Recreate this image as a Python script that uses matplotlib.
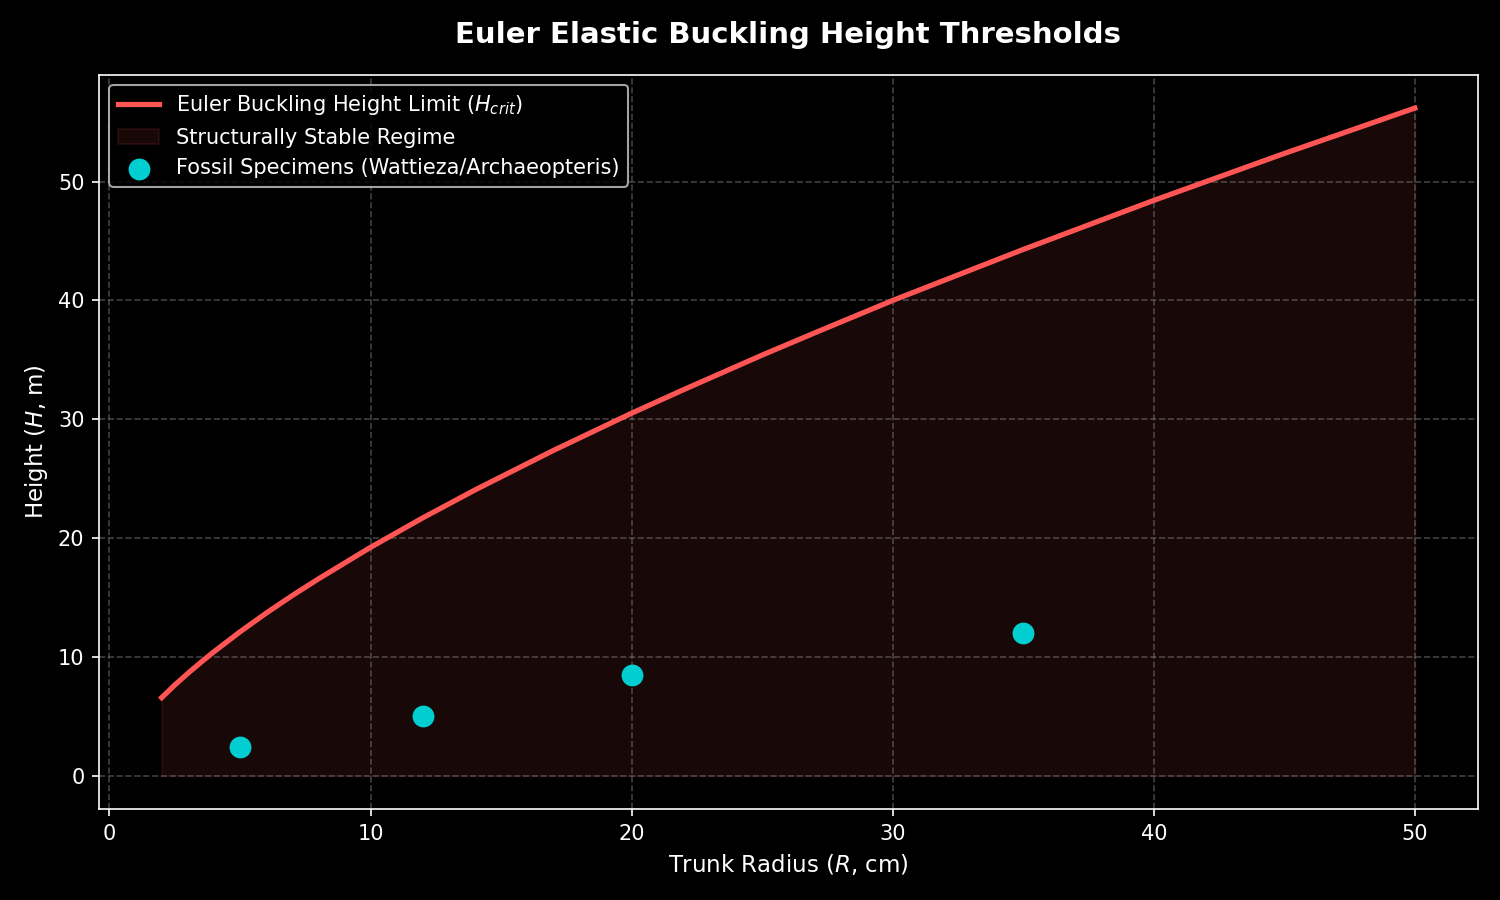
import numpy as np
import matplotlib.pyplot as plt

# critical height curve
radius_cm = [2, 2.5, 3, 3.5, 4, 5, 6, 7, 8, 10, 12, 14, 17, 20, 22, 25, 27,
             30, 35, 40, 45, 50]
h_crit_m = [6.57, 7.63, 8.61, 9.54, 10.43, 12.11, 13.68, 15.16, 16.56, 19.22,
            21.70, 24.05, 27.37, 30.51, 32.50, 35.40, 37.26, 40.00, 44.29,
            48.42, 52.37, 56.19]

# fossil specimens
fossil_r = [5, 12, 20, 35]
fossil_h = [2.4, 5.0, 8.5, 12.0]

plt.style.use('dark_background')
fig, ax = plt.subplots(figsize=(10, 6), dpi=150)

ax.plot(radius_cm, h_crit_m, color='#ff5555', lw=2.5,
        label=r'Euler Buckling Height Limit ($H_{crit}$)')
ax.fill_between(radius_cm, 0, h_crit_m, color='#ff5555', alpha=0.1,
                label='Structurally Stable Regime')
ax.scatter(fossil_r, fossil_h, color='#00ced1', s=90, zorder=5,
           label='Fossil Specimens (Wattieza/Archaeopteris)')

ax.set_title('Euler Elastic Buckling Height Thresholds', fontsize=14,
             fontweight='bold', pad=15)
ax.set_xlabel(r'Trunk Radius ($R$, cm)', fontsize=11)
ax.set_ylabel(r'Height ($H$, m)', fontsize=11)
ax.grid(True, linestyle='--', color='gray', alpha=0.5)
ax.legend(loc='upper left', fontsize=10)

fig.subplots_adjust(left=0.066, right=0.985, top=0.917, bottom=0.101)
fig.savefig('out.png')
